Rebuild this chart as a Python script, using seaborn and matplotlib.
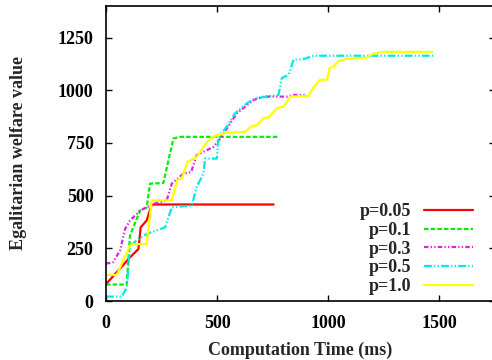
import pandas as pd
import seaborn as sns
import matplotlib.pyplot as plt

# values (time in ms, egalitarian welfare)
t_005 = [0, 108, 146, 156, 183, 206, 754]
v_005 = [80, 207, 247, 350, 382, 458, 458]

t_01 = [0, 93, 108, 123, 153, 183, 198, 258, 281, 303, 333, 776]
v_01 = [78, 78, 310, 350, 429, 444, 557, 560, 668, 771, 779, 779]

t_03 = [0, 30, 63, 86, 108, 153, 213, 273, 296, 348, 383, 408, 483, 514, 589, 664, 709, 814, 844, 897]
v_03 = [178, 182, 239, 342, 382, 429, 461, 477, 557, 604, 612, 692, 731, 771, 891, 954, 970, 970, 978, 978]

t_05 = [0, 71, 93, 108, 146, 183, 266, 296, 386, 408, 438, 446, 499, 506, 543, 581, 634, 671,
        776, 791, 821, 844, 889, 934, 1475]
v_05 = [21, 21, 63, 262, 294, 318, 350, 445, 453, 541, 604, 676, 676, 779, 827, 891, 938, 962,
        978, 1058, 1073, 1145, 1148, 1164, 1164]

t_10 = [0, 48, 108, 123, 183, 206, 296, 321, 341, 366, 408, 454, 499, 544, 626, 656, 679, 709,
        731, 769, 799, 829, 911, 934, 964, 994, 1006, 1024, 1047, 1084, 1167, 1204, 1249, 1467]
v_10 = [124, 124, 262, 270, 270, 477, 477, 576, 581, 660, 684, 755, 787, 798, 803, 830, 835, 867,
        871, 915, 922, 970, 973, 1015, 1050, 1050, 1105, 1113, 1140, 1150, 1153, 1174, 1182, 1182]

labels = ["p=0.05", "p=0.1", "p=0.3", "p=0.5", "p=1.0"]
series = [(t_005, v_005), (t_01, v_01), (t_03, v_03), (t_05, v_05), (t_10, v_10)]

rows = []
for lab, (ts, vs) in zip(labels, series):
    for t, v in zip(ts, vs):
        rows.append({"time": t, "value": v, "p": lab})
df = pd.DataFrame(rows)

colors = {"p=0.05": "#ff0000", "p=0.1": "#00ee00", "p=0.3": "#e020e0",
          "p=0.5": "#00e8e8", "p=1.0": "#ffff00"}
dashes = {"p=0.05": "", "p=0.1": (2, 1), "p=0.3": (2, 1, 0.6, 1, 0.6, 1),
          "p=0.5": (3.5, 1, 0.6, 1, 0.6, 1), "p=1.0": ""}

sns.set_style("ticks")
plt.rcParams["font.family"] = ["Liberation Serif", "DejaVu Serif"]
plt.rcParams["font.weight"] = "bold"

fig = plt.figure(figsize=(4.92, 3.6), dpi=100)
ax = fig.add_axes([106 / 492, 1 - 301 / 360, 389 / 492, 295 / 360])

sns.lineplot(data=df, x="time", y="value", hue="p", style="p", hue_order=labels,
             style_order=labels, palette=colors, dashes=dashes, sort=False,
             estimator=None, linewidth=1.6, ax=ax)

ax.set_xlim(0, 1750)
ax.set_ylim(0, 1400)
ax.set_xticks([0, 500, 1000, 1500])
ax.set_yticks([0, 250, 500, 750, 1000, 1250])
ax.tick_params(direction="in", length=4, width=1, top=True, right=True,
               labelsize=13, colors="black")
ax.tick_params(axis="x", pad=10)
ax.tick_params(axis="y", pad=9)
for lb in ax.get_xticklabels() + ax.get_yticklabels():
    lb.set_fontweight("bold")
for s in ax.spines.values():
    s.set_linewidth(1.2)
    s.set_color("black")

ax.set_xlabel("Computation Time (ms)", fontsize=13, fontweight="bold", labelpad=7)
ax.set_ylabel("Egalitarian welfare value", fontsize=13, fontweight="bold", labelpad=22)

leg = ax.legend(loc="lower right", bbox_to_anchor=(0.962, -0.005), frameon=False,
                markerfirst=False, fontsize=13, handlelength=2.7, handletextpad=0.7,
                labelspacing=0.1, borderaxespad=0.0)
for tx in leg.get_texts():
    tx.set_fontweight("bold")

fig.savefig("out.png", dpi=100)
